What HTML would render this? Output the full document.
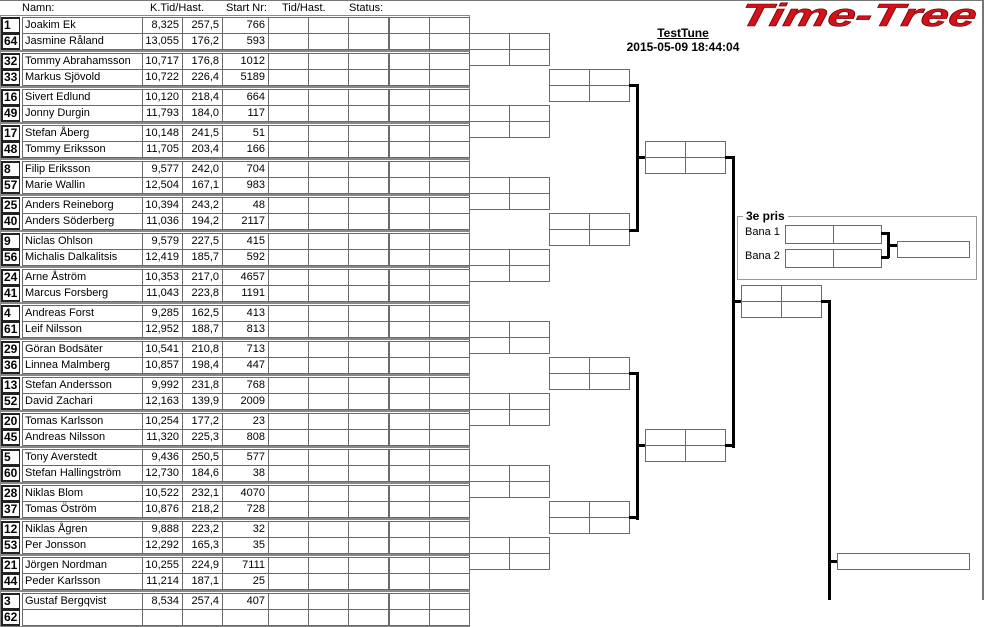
<!DOCTYPE html>
<html><head><meta charset="utf-8">
<style>
html,body{margin:0;padding:0;background:#fff;}
body{width:984px;height:600px;position:relative;overflow:hidden;font-family:"Liberation Sans",sans-serif;font-size:11px;color:#000;}
.b{position:absolute;box-sizing:border-box;border:1px solid #6a6a6a;}
.t{position:absolute;white-space:nowrap;line-height:16px;}
.r{text-align:right;}
.s{position:absolute;box-sizing:border-box;border:2px solid #222;border-right-width:1px;font-weight:bold;font-size:12px;line-height:12px;padding-left:1px;}
.k{position:absolute;background:#000;}
</style></head><body>
<div class="k" style="left:0;top:0;width:984px;height:1px;background:#777"></div>
<div class="k" style="left:982px;top:0;width:2px;height:600px;background:#777"></div>
<div class="t" style="left:22px;top:0px">Namn:</div>
<div class="t" style="left:150px;top:0px">K.Tid/Hast.</div>
<div class="t" style="left:226px;top:0px">Start Nr:</div>
<div class="t" style="left:282px;top:0px">Tid/Hast.</div>
<div class="t" style="left:349px;top:0px">Status:</div>

<svg style="position:absolute;left:735px;top:0" width="245" height="30">
<text x="4" y="26" textLength="236" lengthAdjust="spacingAndGlyphs" font-family="Liberation Sans" font-weight="bold" font-style="italic" font-size="32" fill="#d4101a" stroke="#600" stroke-width="0.6" transform="skewX(-12) translate(5,0)">Time-Tree</text>
</svg>
<div class="t" style="left:600px;top:25px;width:166px;text-align:center;font-weight:bold;font-size:12px;text-decoration:underline">TestTune</div>
<div class="t" style="left:600px;top:39px;width:166px;text-align:center;font-weight:bold;font-size:12px">2015-05-09 18:44:04</div>

<div id="c"></div>
<script>
var d=[["1","Joakim Ek","8,325","257,5","766"],["64","Jasmine Råland","13,055","176,2","593"],
["32","Tommy Abrahamsson","10,717","176,8","1012"],["33","Markus Sjövold","10,722","226,4","5189"],
["16","Sivert Edlund","10,120","218,4","664"],["49","Jonny Durgin","11,793","184,0","117"],
["17","Stefan Åberg","10,148","241,5","51"],["48","Tommy Eriksson","11,705","203,4","166"],
["8","Filip Eriksson","9,577","242,0","704"],["57","Marie Wallin","12,504","167,1","983"],
["25","Anders Reineborg","10,394","243,2","48"],["40","Anders Söderberg","11,036","194,2","2117"],
["9","Niclas Ohlson","9,579","227,5","415"],["56","Michalis Dalkalitsis","12,419","185,7","592"],
["24","Arne Åström","10,353","217,0","4657"],["41","Marcus Forsberg","11,043","223,8","1191"],
["4","Andreas Forst","9,285","162,5","413"],["61","Leif Nilsson","12,952","188,7","813"],
["29","Göran Bodsäter","10,541","210,8","713"],["36","Linnea Malmberg","10,857","198,4","447"],
["13","Stefan Andersson","9,992","231,8","768"],["52","David Zachari","12,163","139,9","2009"],
["20","Tomas Karlsson","10,254","177,2","23"],["45","Andreas Nilsson","11,320","225,3","808"],
["5","Tony Averstedt","9,436","250,5","577"],["60","Stefan Hallingström","12,730","184,6","38"],
["28","Niklas Blom","10,522","232,1","4070"],["37","Tomas Öström","10,876","218,2","728"],
["12","Niklas Ågren","9,888","223,2","32"],["53","Per Jonsson","12,292","165,3","35"],
["21","Jörgen Nordman","10,255","224,9","7111"],["44","Peder Karlsson","11,214","187,1","25"],
["3","Gustaf Bergqvist","8,534","257,4","407"],["62","","","",""]];
var h="";
function box(x,y,w,hh,ex){h+='<div class="b" style="left:'+x+'px;top:'+y+'px;width:'+w+'px;height:'+hh+'px;'+(ex||'')+'"></div>';}
function txt(x,y,w,s,cls,ex){h+='<div class="t '+(cls||'')+'" style="left:'+x+'px;top:'+y+'px;width:'+w+'px;'+(ex||'')+'">'+s+'</div>';}
var cx=[22,142,182,222,268,308,348,389,429,469];
for(var i=0;i<d.length;i++){
 var p=Math.floor(i/2), y=17+36*p+16*(i%2);
 if(i%2==0) box(0,y-2,470,36,'border-color:#888');
 h+='<div class="s" style="left:1px;top:'+y+'px;width:19px;height:17px">'+d[i][0]+'</div>';
 for(var c=0;c<9;c++) box(cx[c],y,cx[c+1]-cx[c]+1,17, c==6?'border-right:2px solid #6a6a6a':'');
 txt(25,y,115,d[i][1]);
 txt(142,y,37,d[i][2],'r');txt(182,y,37,d[i][3],'r');txt(222,y,43,d[i][4],'r');
}
function g(x,y){box(x,y,41,17);box(x+40,y,41,17);box(x,y+16,41,17);box(x+40,y+16,41,17);}
for(var m=0;m<8;m++) g(469,33+72*m);
for(var m=0;m<4;m++) g(549,69+144*m);
g(645,141);g(645,429);g(741,285);
function bar(x,y,w,hh){h+='<div class="k" style="left:'+x+'px;top:'+y+'px;width:'+w+'px;height:'+hh+'px"></div>';}
bar(629,84,9,3);bar(636,84,3,148);bar(629,229,9,3);bar(636,156,9,3);
bar(629,372,9,3);bar(636,372,3,148);bar(629,516,9,3);bar(636,444,9,3);
bar(725,156,9,3);bar(732,156,3,292);bar(725,444,9,3);bar(732,300,9,3);
bar(821,300,9,3);bar(828,300,3,300);bar(828,560,9,3);
box(837,553,133,17);
box(737,216,240,64,'border-color:#999');
h+='<div class="t" style="left:743px;top:208px;background:#fff;padding:0 3px;font-weight:bold;font-size:12px">3e pris</div>';
txt(745,224,40,'Bana 1');txt(745,248,40,'Bana 2');
box(785,225,49,19);box(833,225,49,19);box(785,249,49,19);box(833,249,49,19);
bar(881,232,8,3);bar(887,232,3,26);bar(881,256,8,3);bar(887,244,10,3);
box(897,241,73,17);
document.getElementById('c').innerHTML=h;
</script>
</body></html>
